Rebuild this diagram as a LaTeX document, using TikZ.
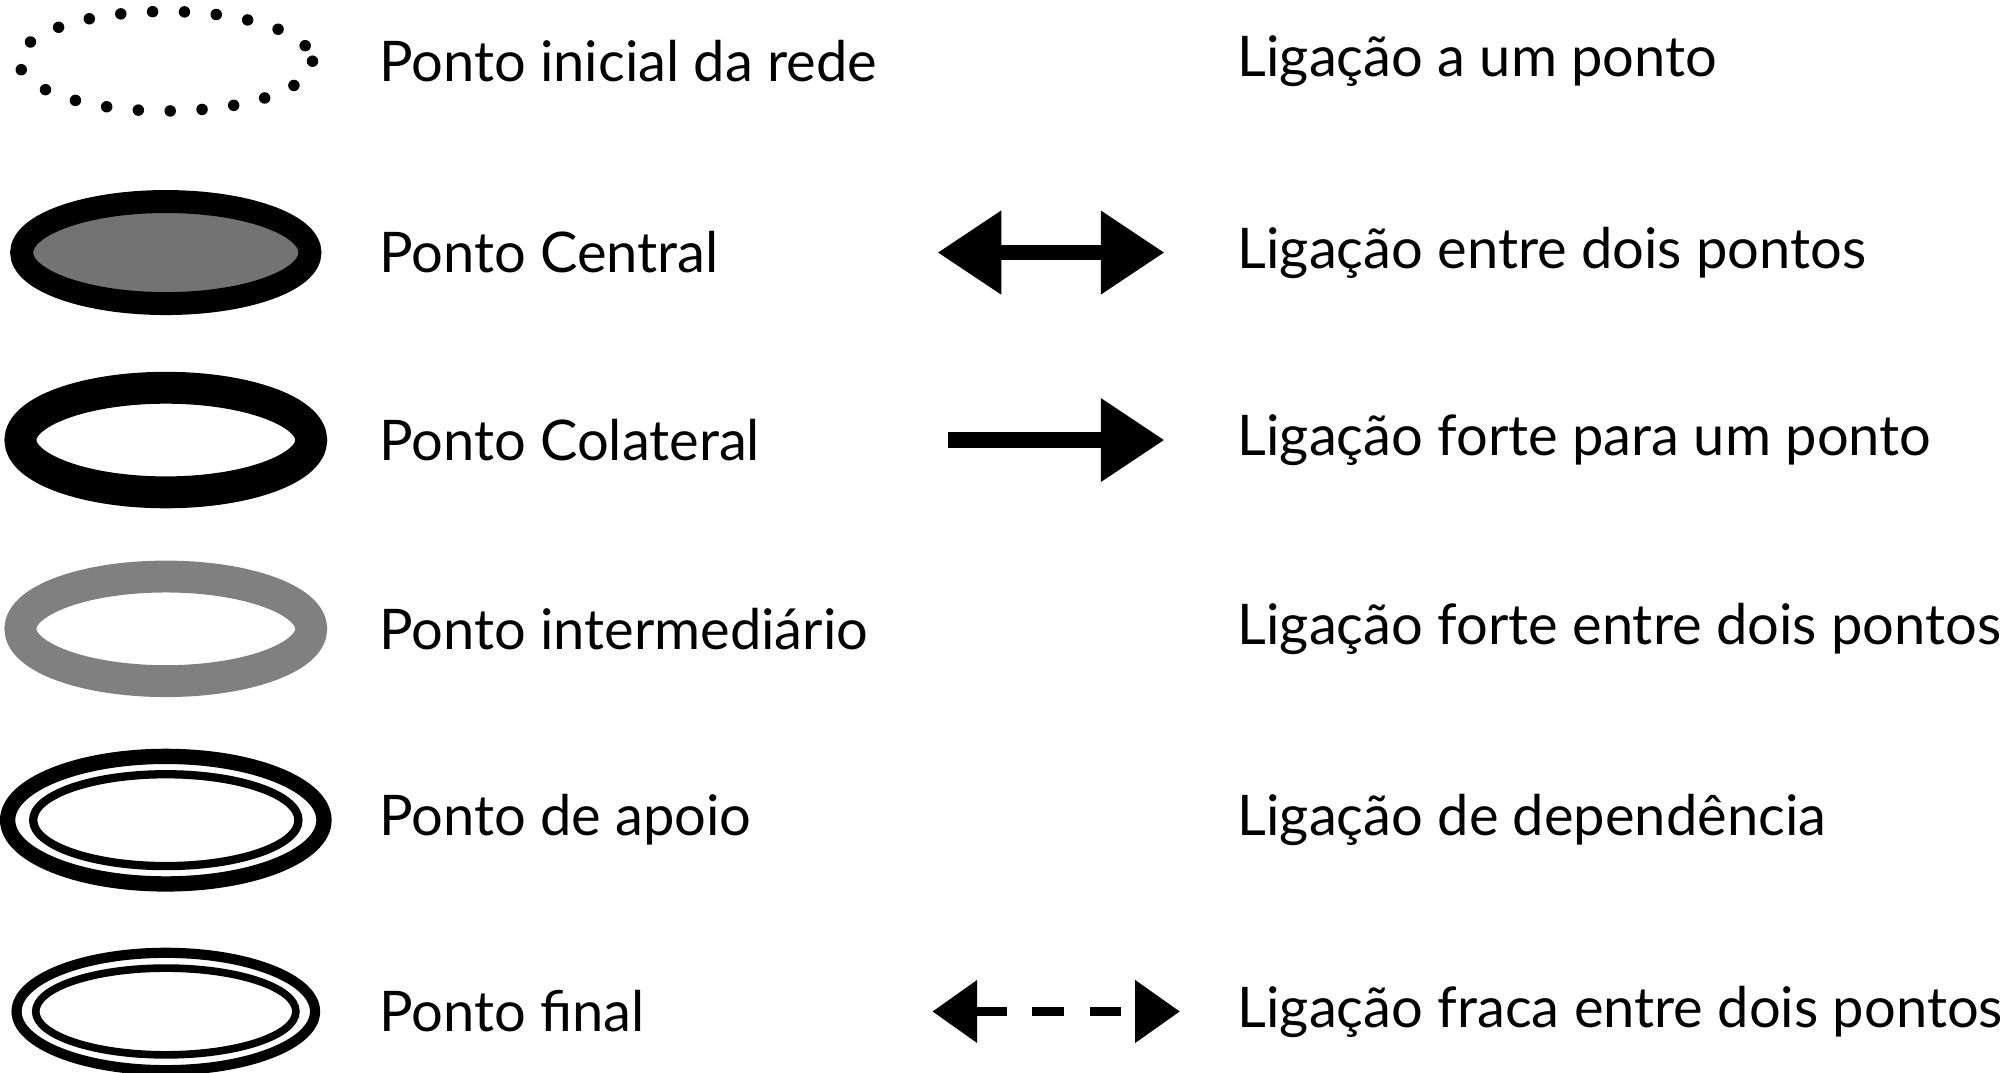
\documentclass[tikz,border=0pt]{standalone}
\usepackage{fontspec}
\setmainfont{Lato}
\usepackage{tikz}
\usetikzlibrary{arrows.meta,positioning}
\tikzset{
    % Define style for the legend texts
    rotulo/.style={anchor=west, inner sep=0pt, font=\fontsize{25}{30}\selectfont},
    % Define arrow styles
    seta/.style={line width=0.24cm, -{Triangle[length=1cm,width=1.25cm]}},
    setadupla/.style={line width=0.24cm, {Triangle[length=1cm,width=1.25cm]}-{Triangle[length=1cm,width=1.25cm]}},
    setafraca/.style={line width=0.14cm, dash pattern=on 0.5cm off 0.4cm,
           {Triangle[length=0.7cm,width=0.95cm]}-{Triangle[length=0.7cm,width=0.95cm]}}
}
\begin{document}
\begin{tikzpicture}[x=0.02cm,y=-0.02cm]
\useasboundingbox (0,0) rectangle (1568,841);

% point symbols
\coordinate (p1) at (130,48);
\coordinate (p2) at (130,198);
\coordinate (p3) at (130,345);
\coordinate (p4) at (130,493);
\coordinate (p5) at (130,643);
\coordinate (p6) at (130,793);

\draw[line width=0.18cm, line cap=round, dash pattern=on 0pt off 0.5cm] (p1) ellipse [x radius=115, y radius=39];
\draw[line width=0.36cm, fill=black!55] (p2) ellipse [x radius=113, y radius=40];
\draw[line width=0.5cm] (p3) ellipse [x radius=114, y radius=41];
\draw[line width=0.5cm, draw=black!50] (p4) ellipse [x radius=114, y radius=41];
\draw[line width=0.24cm] (p5) ellipse [x radius=124, y radius=50];
\draw[line width=0.13cm] (p5) ellipse [x radius=104, y radius=36];
\draw[line width=0.16cm] (p6) ellipse [x radius=117, y radius=46];
\draw[line width=0.12cm] (p6) ellipse [x radius=102, y radius=34];

\node[rotulo] (t1) at (297,48) {Ponto inicial da rede};
\node[rotulo] (t2) at (297,198) {Ponto Central};
\node[rotulo] (t3) at (297,345) {Ponto Colateral};
\node[rotulo] (t4) at (297,493) {Ponto intermediário};
\node[rotulo] (t5) at (297,643) {Ponto de apoio};
\node[rotulo] (t6) at (297,793) {Ponto final};

% link symbols
\coordinate (a2) at (735,198);  \coordinate (b2) at (913,198);
\coordinate (a3) at (743,345);  \coordinate (b3) at (913,345);
\coordinate (a6) at (731,793);  \coordinate (b6) at (925,793);
\draw[setadupla] (a2) -- (b2);
\draw[seta] (a3) -- (b3);
\draw[setafraca] (a6) -- (b6);

\node[rotulo] (l1) at (970,48) {Ligação a um ponto};
\node[rotulo] (l2) at (970,198) {Ligação entre dois pontos};
\node[rotulo] (l3) at (970,345) {Ligação forte para um ponto};
\node[rotulo] (l4) at (970,493) {Ligação forte entre dois pontos};
\node[rotulo] (l5) at (970,643) {Ligação de dependência};
\node[rotulo] (l6) at (970,793) {Ligação fraca entre dois pontos};
\end{tikzpicture}
\end{document}
